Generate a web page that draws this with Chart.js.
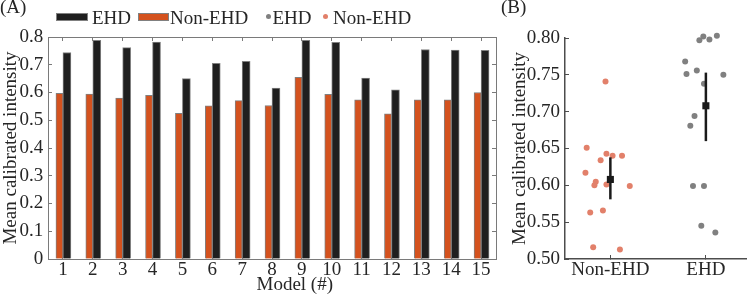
<!DOCTYPE html>
<html>
<head>
<meta charset="utf-8">
<script src="https://cdn.jsdelivr.net/npm/chart.js"></script>
<style>
  body { margin: 0; background: #fff; }
  #wrap { position: relative; width: 751px; height: 295px; overflow: hidden;
          font-family: 'Liberation Serif', serif; font-size: 19px; color: #262626; }
  #wrap canvas { position: absolute; top: 0; }
  .txt { position: absolute; line-height: 19px; white-space: nowrap; }
  .box { position: absolute; box-sizing: border-box; border: 1px solid #808080; }
  .dot { position: absolute; width: 5px; height: 5px; border-radius: 50%; }
</style>
</head>
<body>
<div id="wrap">
  <canvas id="bars" width="500" height="295" style="left:0"></canvas>
  <canvas id="dots" width="251" height="295" style="left:500px"></canvas>

  <div class="txt" style="left:0;top:-3px">(A)</div>
  <div class="txt" style="left:501px;top:-3px">(B)</div>

  <div class="box" style="left:56px;top:13px;width:32px;height:8px;background:#1f1f1f"></div>
  <div class="txt" style="left:92px;top:7.5px" id="lg1"></div>
  <div class="box" style="left:138px;top:13px;width:31px;height:8px;background:#d4521e"></div>
  <div class="txt" style="left:170px;top:7.5px" id="lg2"></div>
  <div class="dot" style="left:265.5px;top:13.5px;background:#808080"></div>
  <div class="txt" style="left:272.5px;top:7.5px" id="lg3"></div>
  <div class="dot" style="left:322.5px;top:13.5px;background:#e2806a"></div>
  <div class="txt" style="left:333px;top:7.5px" id="lg4"></div>

  <div class="txt" style="left:256.5px;top:273.5px">Model (#)</div>
</div>
<script>
// panel A: per-model means
const models = ['1','2','3','4','5','6','7','8','9','10','11','12','13','14','15'];
const ehdBars = [0.744, 0.788, 0.762, 0.782, 0.650, 0.705, 0.712, 0.616, 0.788, 0.781, 0.652, 0.610, 0.755, 0.753, 0.752];
const nonEhdBars = [0.597, 0.594, 0.580, 0.590, 0.525, 0.552, 0.571, 0.553, 0.655, 0.593, 0.574, 0.523, 0.574, 0.574, 0.600];

// panel B: individual points (x is the jitter around the group position)
const groups = ['Non-EHD', 'EHD'];
const nonEhdX = [0.949, 0.752, 0.959, 1.023, 1.122, 0.898, 0.739, 0.847, 0.833, 0.959, 1.203, 0.789, 0.922, 0.820, 1.100];
const nonEhdY = [0.741, 0.651, 0.643, 0.640, 0.640, 0.634, 0.617, 0.605, 0.600, 0.601, 0.599, 0.563, 0.566, 0.516, 0.513];
const ehdX = [1.973, 2.115, 1.932, 2.037, 1.783, 1.797, 1.905, 2.183, 1.980, 1.881, 1.837, 1.865, 1.980, 1.952, 2.099];
const ehdY = [0.802, 0.803, 0.797, 0.798, 0.768, 0.751, 0.756, 0.750, 0.738, 0.694, 0.681, 0.599, 0.599, 0.545, 0.536];
const groupMean = [0.608, 0.708];
const groupLow = [0.581, 0.660];
const groupHigh = [0.638, 0.753];

const yTitle = 'Mean calibrated intensity';

document.getElementById('lg1').textContent = 'EHD';
document.getElementById('lg2').textContent = 'Non-EHD';
document.getElementById('lg3').textContent = 'EHD';
document.getElementById('lg4').textContent = 'Non-EHD';

Chart.defaults.font.family = "'Liberation Serif', serif";
Chart.defaults.font.size = 19;
Chart.defaults.color = '#262626';
Chart.defaults.animation = false;

const frame = '#7a7a7a';
const inward = { drawOnChartArea: false, tickLength: -4, color: frame };

new Chart(document.getElementById('bars'), {
    type: 'bar',
    data: {
        labels: models,
        datasets: [
            {
                label: 'Non-EHD',
                data: nonEhdBars,
                backgroundColor: '#d4521e',
                borderColor: '#808080',
                borderWidth: 1,
                barThickness: 7,
            },
            {
                label: 'EHD',
                data: ehdBars,
                backgroundColor: '#1f1f1f',
                borderColor: '#808080',
                borderWidth: 1,
                barThickness: 8,
            },
        ],
    },
    options: {
        responsive: false,
        devicePixelRatio: 1,
        layout: { padding: { left: 0, top: 37, right: 4, bottom: 0 } },
        plugins: { legend: { display: false }, tooltip: { enabled: false } },
        scales: {
            x: {
                offset: true,
                grid: { ...inward, offset: false },
                border: { color: frame, width: 1 },
                ticks: { padding: 4, autoSkip: false, maxRotation: 0 },
                afterFit: (s) => { s.height = 36; },
            },
            x2: {
                type: 'category',
                position: 'top',
                labels: models,
                offset: true,
                grid: { ...inward, offset: false },
                border: { color: frame, width: 1 },
                ticks: { display: false },
                afterFit: (s) => { s.height = 0; },
            },
            y: {
                min: 0,
                max: 0.8,
                ticks: { stepSize: 0.1, padding: 8.7 },
                grid: inward,
                border: { color: frame, width: 1 },
                title: { display: true, text: yTitle, font: { size: 19, lineHeight: 1 }, padding: { top: 1.6, bottom: 0 } },
                afterFit: (s) => { s.width = 48; },
            },
            y2: {
                position: 'right',
                min: 0,
                max: 0.8,
                ticks: { display: false, stepSize: 0.1 },
                grid: inward,
                border: { color: frame, width: 1 },
                afterFit: (s) => { s.width = 0; },
            },
        },
    },
});

const axisCol = '#4d4d4d';
const pts = (xs, ys) => xs.map((x, i) => ({ x: x, y: ys[i] }));

new Chart(document.getElementById('dots'), {
    type: 'scatter',
    data: {
        datasets: [
            {
                label: 'Non-EHD mean',
                data: [{ x: 1, y: groupMean[0] }],
                pointStyle: 'rect',
                pointRadius: 5,
                backgroundColor: '#1a1a1a',
                borderWidth: 0,
            },
            {
                label: 'EHD mean',
                data: [{ x: 2, y: groupMean[1] }],
                pointStyle: 'rect',
                pointRadius: 5,
                backgroundColor: '#1a1a1a',
                borderWidth: 0,
            },
            {
                label: 'Non-EHD range',
                data: [{ x: 1, y: groupLow[0] }, { x: 1, y: groupHigh[0] }],
                showLine: true,
                pointRadius: 0,
                borderColor: '#1a1a1a',
                borderWidth: 2.5,
            },
            {
                label: 'EHD range',
                data: [{ x: 2, y: groupLow[1] }, { x: 2, y: groupHigh[1] }],
                showLine: true,
                pointRadius: 0,
                borderColor: '#1a1a1a',
                borderWidth: 2.5,
            },
            {
                label: 'EHD',
                data: pts(ehdX, ehdY),
                pointRadius: 3,
                backgroundColor: '#808080',
                borderWidth: 0,
                clip: false,
            },
            {
                label: 'Non-EHD',
                data: pts(nonEhdX, nonEhdY),
                pointRadius: 3,
                backgroundColor: '#e2806a',
                borderWidth: 0,
                clip: false,
            },
        ],
    },
    options: {
        responsive: false,
        devicePixelRatio: 1,
        layout: { padding: { left: 0, top: 38, right: 0, bottom: 0 } },
        plugins: { legend: { display: false }, tooltip: { enabled: false } },
        scales: {
            x: {
                type: 'linear',
                min: 0.525,
                max: 2.42,
                afterBuildTicks: (s) => { s.ticks = [{ value: 1 }, { value: 2 }]; },
                ticks: { padding: 4, callback: (v) => groups[v - 1] },
                grid: { drawOnChartArea: false, tickLength: -4, color: axisCol },
                border: { color: axisCol, width: 1.5 },
                afterFit: (s) => { s.height = 36; },
            },
            y: {
                min: 0.5,
                max: 0.8,
                ticks: { stepSize: 0.05, padding: 9, callback: (v) => v.toFixed(2) },
                grid: { drawOnChartArea: false, tickLength: -4, color: axisCol },
                border: { color: axisCol, width: 1.5 },
                title: { display: true, text: yTitle, font: { size: 19, lineHeight: 1 }, padding: { top: 11, bottom: 0 } },
                afterFit: (s) => { s.width = 65; },
            },
        },
    },
});
</script>
</body>
</html>
